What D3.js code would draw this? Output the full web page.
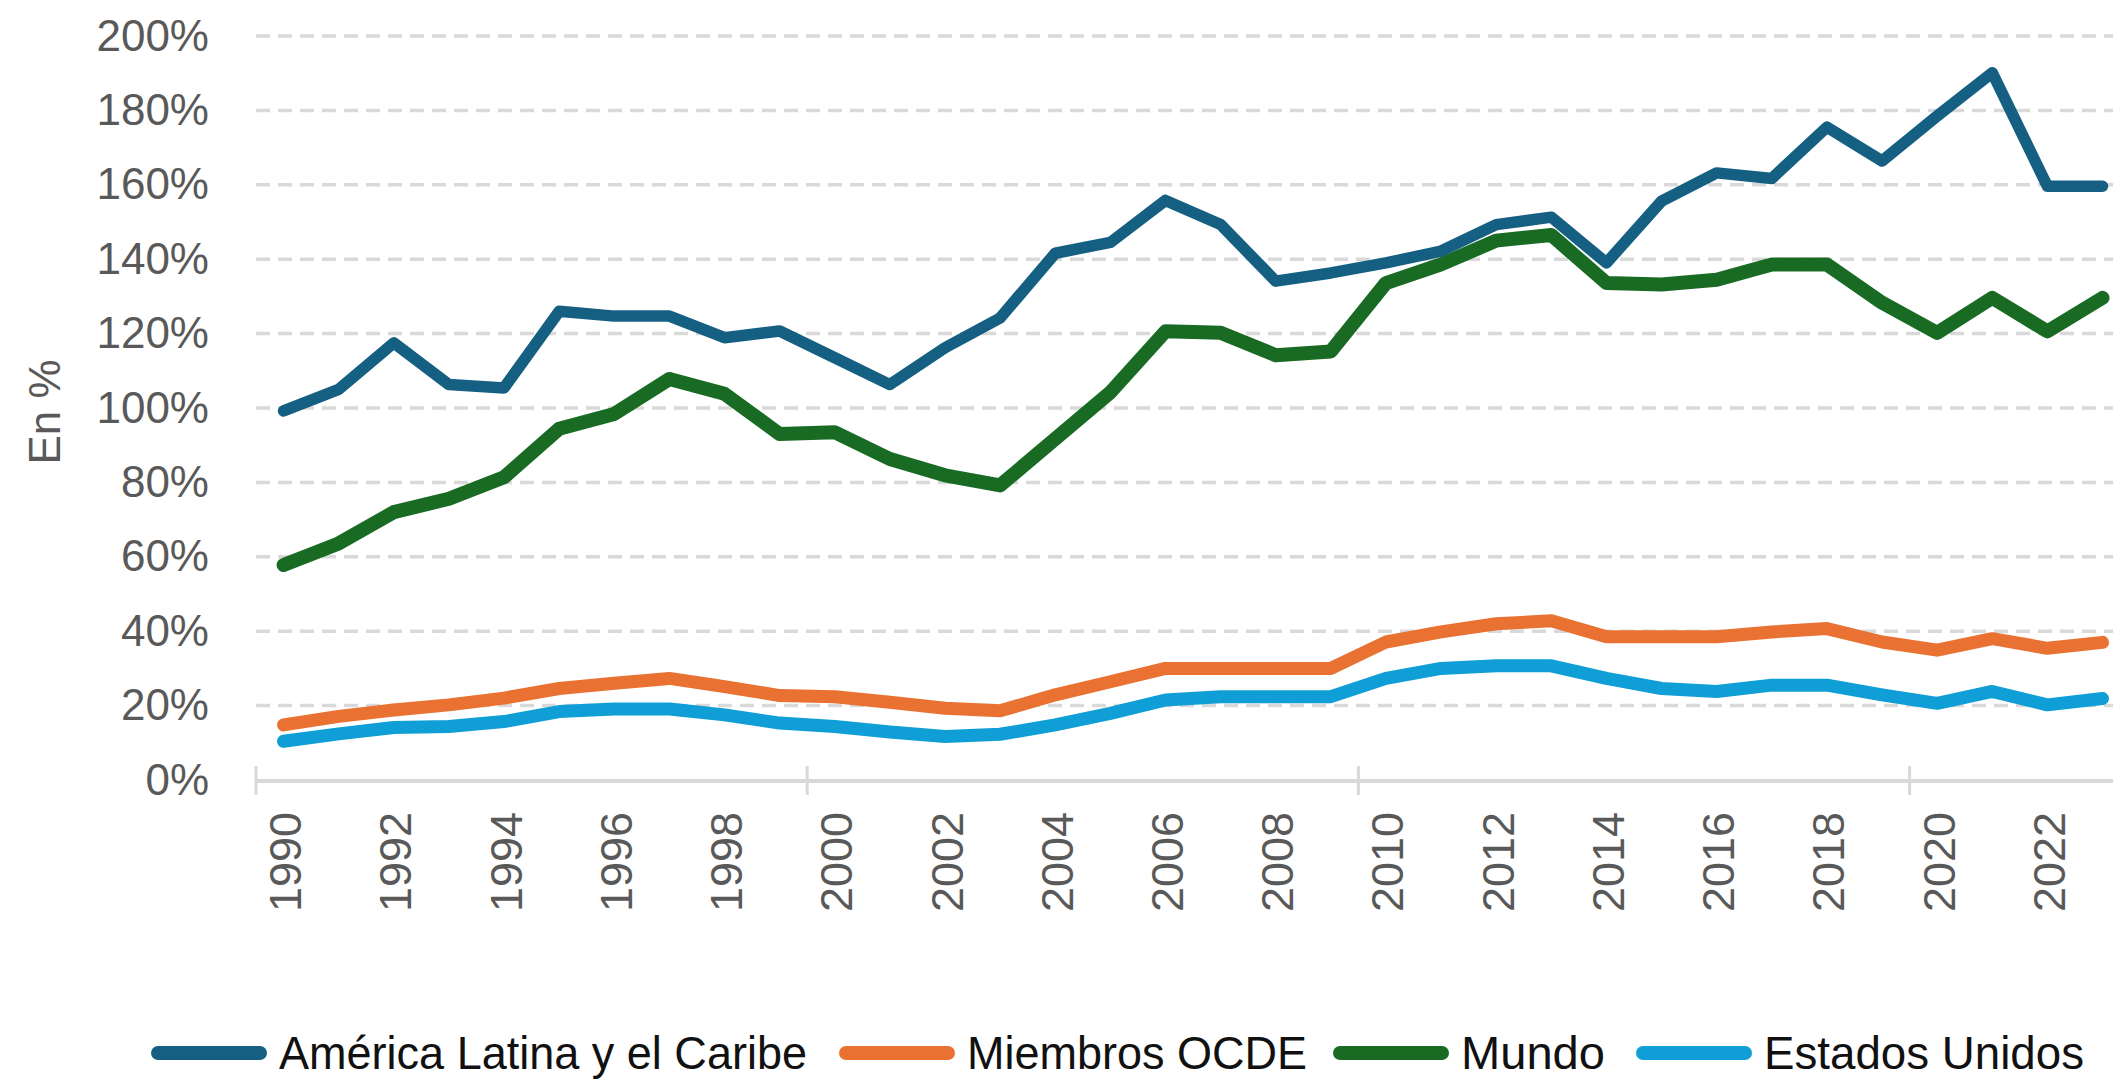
<!DOCTYPE html>
<html>
<head>
<meta charset="utf-8">
<script src="https://cdn.jsdelivr.net/npm/d3@7"></script>
<style>
  body { margin: 0; background: #fff; }
  svg { display: block; }
</style>
</head>
<body>
<div id="chart"></div>
<script>
// Data (% values)
const years = [1990, 1991, 1992, 1993, 1994, 1995, 1996, 1997, 1998, 1999,
  2000, 2001, 2002, 2003, 2004, 2005, 2006, 2007, 2008, 2009,
  2010, 2011, 2012, 2013, 2014, 2015, 2016, 2017, 2018, 2019,
  2020, 2021, 2022, 2023];

const latam = [99.2, 105, 117.5, 106.3, 105.4, 126, 124.7, 124.7, 118.9, 120.7,
  113.5, 106.3, 116.2, 124.2, 141.6, 144.5, 155.8, 149.3, 134.1, 136.3,
  139, 142.2, 149.3, 151.3, 139, 155.6, 163.2, 161.7, 175.5, 166.4,
  178.5, 190.1, 159.6, 159.6];

const ocde = [14.8, 17.1, 18.8, 20.2, 22, 24.6, 26, 27.3, 25.1, 22.7,
  22.4, 20.9, 19.3, 18.6, 22.9, 26.4, 30, 30, 30, 30,
  37.1, 39.8, 42, 42.8, 38.5, 38.5, 38.5, 39.8, 40.7, 37.1,
  34.9, 38, 35.4, 37];

const mundo = [57.8, 63.6, 72, 75.6, 81.4, 94.4, 98.4, 107.8, 103.8, 93,
  93.5, 86.3, 81.9, 79.2, 91.7, 104.2, 120.6, 120.2, 114.2, 115.2,
  133.6, 138.6, 145, 146.5, 133.6, 133.2, 134.5, 138.6, 138.6, 128.3,
  120.2, 129.6, 120.6, 129.6];

const eeuu = [10.4, 12.4, 14.1, 14.4, 15.7, 18.4, 19.1, 19.1, 17.5, 15.3,
  14.4, 12.9, 11.7, 12.3, 14.8, 17.9, 21.5, 22.4, 22.4, 22.4,
  27.3, 30, 30.7, 30.7, 27.3, 24.6, 23.8, 25.5, 25.5, 22.9,
  20.6, 23.8, 20.2, 21.9];

const seriesNames = ["América Latina y el Caribe", "Miembros OCDE", "Mundo", "Estados Unidos"];
const seriesColors = ["#156082", "#E97132", "#196B24", "#0F9ED5"];
const seriesValues = [latam, ocde, mundo, eeuu];
const seriesWidths = [11.5, 13, 14, 13];

const yTicks = [0, 20, 40, 60, 80, 100, 120, 140, 160, 180, 200];
const xLabelYears = years.filter((d, i) => i % 2 === 0);
const xMajorYears = [1990, 2000, 2010, 2020];

// Layout
const W = 2113, H = 1079;
const plotLeft = 256, bandW = 55.12;
const plotTop = 36, plotBottom = 780;

const svg = d3.select("#chart")
  .append("svg")
  .attr("width", W)
  .attr("height", H);

// Scales
const xScale = d3.scaleBand()
  .domain(years)
  .range([plotLeft, plotLeft + bandW * years.length])
  .paddingInner(0)
  .paddingOuter(0);

const yScale = d3.scaleLinear()
  .domain([0, 200])
  .range([plotBottom, plotTop]);

const xc = d => xScale(d) + xScale.bandwidth() / 2;

// Horizontal dashed gridlines
svg.append("g")
  .selectAll("line")
  .data(yTicks.filter(d => d > 0))
  .join("line")
  .attr("x1", plotLeft)
  .attr("x2", W)
  .attr("y1", d => yScale(d))
  .attr("y2", d => yScale(d))
  .attr("stroke", "#d9d9d9")
  .attr("stroke-width", 3.5)
  .attr("stroke-dasharray", "14 8");

// Y axis labels
svg.append("g")
  .attr("transform", `translate(${plotLeft},0)`)
  .style("font-family", "'Liberation Sans', Arial, sans-serif")
  .call(d3.axisLeft(yScale)
    .tickValues(yTicks)
    .tickFormat(d => d + "%")
    .tickSize(0)
    .tickPadding(47))
  .call(g => g.select(".domain").remove())
  .selectAll(".tick text")
  .style("font-size", "44px")
  .attr("fill", "#595959");

// Y axis title
svg.append("text")
  .attr("transform", `translate(44,${yScale(100) + 4}) rotate(-90)`)
  .attr("text-anchor", "middle")
  .attr("dominant-baseline", "central")
  .style("font-family", "'Liberation Sans', Arial, sans-serif")
  .style("font-size", "44px")
  .attr("fill", "#595959")
  .text("En %");

// X axis line and major ticks
svg.append("line")
  .attr("x1", plotLeft)
  .attr("x2", W)
  .attr("y1", plotBottom + 1)
  .attr("y2", plotBottom + 1)
  .attr("stroke", "#d9d9d9")
  .attr("stroke-width", 4);

svg.append("g")
  .selectAll("line")
  .data(xMajorYears)
  .join("line")
  .attr("x1", d => xScale(d))
  .attr("x2", d => xScale(d))
  .attr("y1", plotBottom - 14)
  .attr("y2", plotBottom + 15)
  .attr("stroke", "#d9d9d9")
  .attr("stroke-width", 3);

// X axis labels (rotated)
svg.append("g")
  .selectAll("text")
  .data(xLabelYears)
  .join("text")
  .attr("transform", d => `translate(${xc(d) + 2},${plotBottom + 32}) rotate(-90)`)
  .attr("text-anchor", "end")
  .attr("dominant-baseline", "central")
  .style("font-family", "'Liberation Sans', Arial, sans-serif")
  .style("font-size", "45px")
  .attr("fill", "#595959")
  .text(d => d);

// Lines
const line = d3.line()
  .x((d, i) => xc(years[i]))
  .y(d => yScale(d));

const drawOrder = [3, 1, 2, 0];
drawOrder.forEach(k => {
  svg.append("path")
    .datum(seriesValues[k])
    .attr("fill", "none")
    .attr("stroke", seriesColors[k])
    .attr("stroke-width", seriesWidths[k])
    .attr("stroke-linejoin", "round")
    .attr("stroke-linecap", "round")
    .attr("d", line);
});

// Legend (narrow font in the original, squeezed to its width)
const legendX = [152, 840, 1334, 1637];
const legendTextW = [528, 340, 144, 320];
const legendY = 1053;
const legend = svg.append("g");
seriesNames.forEach((name, i) => {
  legend.append("line")
    .attr("x1", legendX[i] + 6)
    .attr("x2", legendX[i] + 108)
    .attr("y1", legendY)
    .attr("y2", legendY)
    .attr("stroke", seriesColors[i])
    .attr("stroke-width", 14)
    .attr("stroke-linecap", "round");
  legend.append("text")
    .attr("x", legendX[i] + 127)
    .attr("y", legendY)
    .attr("dominant-baseline", "central")
    .attr("textLength", legendTextW[i])
    .attr("lengthAdjust", "spacingAndGlyphs")
    .style("font-family", "'Liberation Sans', Arial, sans-serif")
    .style("font-size", "46px")
    .attr("fill", "#111")
    .text(name);
});
</script>
</body>
</html>
